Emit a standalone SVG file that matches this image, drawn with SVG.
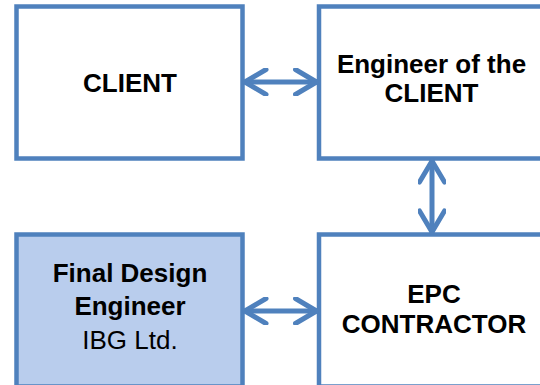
<svg xmlns="http://www.w3.org/2000/svg" width="540" height="385" viewBox="0 0 540 385">
  <style>
    .box { stroke: #4F81BD; stroke-width: 4.5; fill: #FFFFFF; }
    .box.hl { fill: #B9CDED; }
    .lbl { font-family: "Liberation Sans", Arial, sans-serif; font-size: 26px; fill: #000000; text-anchor: middle; }
    .b { font-weight: bold; }
    .conn { stroke: #4F81BD; stroke-width: 5; fill: none; stroke-linecap: round; stroke-linejoin: round; }
  </style>
  <defs>
    <marker id="chev" viewBox="-24 -14 26 28" refX="0" refY="0" markerWidth="26" markerHeight="28" markerUnits="userSpaceOnUse" orient="auto-start-reverse">
      <path d="M -21 -12.5 L 0 0 L -21 12.5" stroke="#4F81BD" stroke-width="5" fill="none" stroke-linecap="round" stroke-linejoin="round"/>
    </marker>
  </defs>

  <g id="client">
    <rect class="box" x="16.5" y="6.5" width="226" height="152"/>
    <text class="lbl b" x="130" y="92">CLIENT</text>
  </g>

  <g id="engineer-of-client">
    <rect class="box" x="319" y="6.5" width="240" height="152"/>
    <text class="lbl b" x="431.5" y="73">Engineer of the</text>
    <text class="lbl b" x="431.5" y="102">CLIENT</text>
  </g>

  <g id="final-design-engineer">
    <rect class="box hl" x="16.5" y="234.5" width="226" height="152"/>
    <text class="lbl b" x="130" y="282">Final Design</text>
    <text class="lbl b" x="130" y="315">Engineer</text>
    <text class="lbl" x="130" y="349">IBG Ltd.</text>
  </g>

  <g id="epc-contractor">
    <rect class="box" x="319" y="234.5" width="240" height="152"/>
    <text class="lbl b" x="434" y="303">EPC</text>
    <text class="lbl b" x="434" y="333">CONTRACTOR</text>
  </g>

  <g id="connectors">
    <line class="conn" x1="245" y1="82" x2="316.5" y2="82" marker-start="url(#chev)" marker-end="url(#chev)"/>
    <line class="conn" x1="432" y1="161" x2="432" y2="232" marker-start="url(#chev)" marker-end="url(#chev)"/>
    <line class="conn" x1="245" y1="311" x2="316.5" y2="311" marker-start="url(#chev)" marker-end="url(#chev)"/>
  </g>
</svg>
